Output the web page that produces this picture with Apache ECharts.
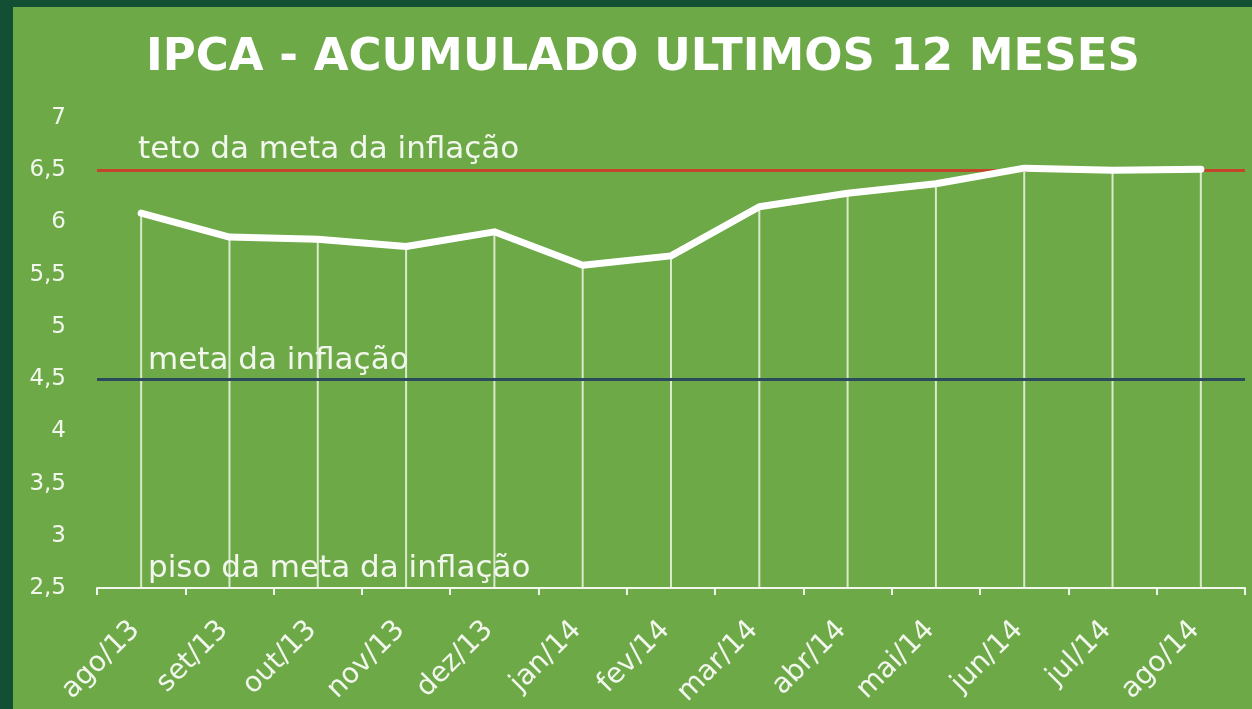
<!DOCTYPE html>
<html>
<head>
<meta charset="utf-8">
<script src="https://cdn.jsdelivr.net/npm/echarts@6/dist/echarts.min.js"></script>
<style>
  html, body { margin: 0; padding: 0; background: #134f35; }
  #main { position: absolute; left: 13px; top: 7px; width: 1239px; height: 702px; }
</style>
</head>
<body>
<div id="main"></div>
<script>
// dados
var meses = ['ago/13', 'set/13', 'out/13', 'nov/13', 'dez/13', 'jan/14', 'fev/14',
  'mar/14', 'abr/14', 'mai/14', 'jun/14', 'jul/14', 'ago/14']
var ipca = [6.09, 5.86, 5.84, 5.77, 5.91, 5.59, 5.68, 6.15, 6.28, 6.37, 6.52, 6.50, 6.51]
var teto = 6.5
var meta = 4.5
var piso = 2.5

var font = 'DejaVu Sans'
var txt = '#f2f7ee'
var myChart = echarts.init(document.getElementById('main'))
myChart.setOption({
  backgroundColor: '#6ea948',
  animation: false,
  title: {
    text: 'IPCA - ACUMULADO ULTIMOS 12 MESES',
    left: 625,
    textAlign: 'center',
    top: 24,
    textStyle: {
      color: '#ffffff',
      fontFamily: font,
      fontWeight: 'bold',
      fontSize: 45
    }
  },
  grid: {
    left: 84,
    right: 7,
    top: 111,
    bottom: 121,
    outerBoundsMode: 'none'
  },
  xAxis: {
    type: 'category',
    data: meses,
    boundaryGap: true,
    axisLine: { lineStyle: { color: txt, width: 2 } },
    axisTick: { show: true, length: 7, lineStyle: { color: txt, width: 2 } },
    axisLabel: {
      rotate: 45,
      color: txt,
      fontFamily: font,
      fontSize: 28,
      margin: 32,
      padding: [0, 8, 0, 0]
    }
  },
  yAxis: {
    type: 'value',
    min: 2.5,
    max: 7,
    interval: 0.5,
    startValue: 2.5,
    axisLine: { show: false },
    axisTick: { show: false },
    splitLine: { show: false },
    axisLabel: {
      color: txt,
      fontFamily: font,
      fontSize: 23,
      margin: 31,
      formatter: function (v) { return String(v).replace('.', ',') }
    }
  },
  series: [
    {
      // linhas verticais ate o eixo
      type: 'bar',
      data: ipca,
      barWidth: 2,
      itemStyle: { color: 'rgba(235,245,228,0.85)' },
      z: 1
    },
    {
      type: 'line',
      data: ipca,
      symbol: 'none',
      lineStyle: { color: '#ffffff', width: 7, cap: 'round', join: 'round' },
      z: 3,
      markLine: {
        silent: true,
        symbol: 'none',
        z: 2,
        data: [
          {
            yAxis: teto,
            lineStyle: { color: '#c4452b', width: 3, type: 'solid' },
            label: {
              formatter: 'teto da meta da inflação',
              position: 'insideStartTop',
              distance: [41, 5],
              color: txt,
              fontFamily: font,
              fontSize: 31
            }
          },
          {
            yAxis: meta,
            lineStyle: { color: '#2c4a5e', width: 3, type: 'solid' },
            label: {
              formatter: 'meta da inflação',
              position: 'insideStartTop',
              distance: [51, 3],
              color: txt,
              fontFamily: font,
              fontSize: 31
            }
          },
          {
            yAxis: piso,
            lineStyle: { color: 'rgba(0,0,0,0)', width: 1, type: 'solid' },
            label: {
              show: true,
              formatter: 'piso da meta da inflação',
              position: 'insideStartTop',
              distance: [51, 4],
              color: txt,
              fontFamily: font,
              fontSize: 31
            }
          }
        ]
      }
    }
  ]
})
</script>
</body>
</html>
